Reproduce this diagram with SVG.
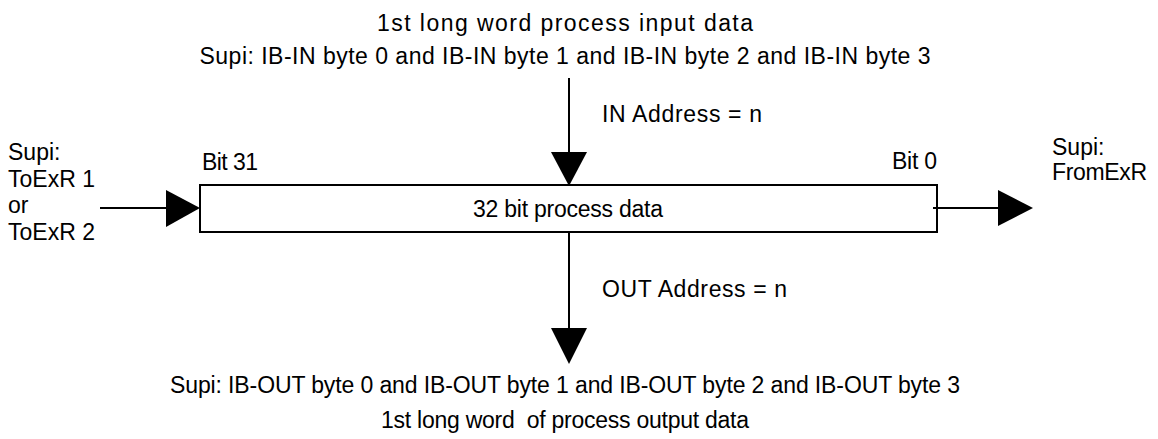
<svg xmlns="http://www.w3.org/2000/svg" width="1158" height="439" viewBox="0 0 1158 439">
<style>
text{font-family:"Liberation Sans",Arial,sans-serif;font-size:23px;fill:#000;white-space:pre}
.c{text-anchor:middle}
.s{font-size:22px}
.ln{stroke:#000;stroke-width:2;fill:none}
.ah{fill:#000;stroke:none}
</style>
<rect width="1158" height="439" fill="#fff"/>
<g id="top-label">
<text class="c" x="565" y="31" textLength="376" lengthAdjust="spacing">1st long word process input data</text>
<text class="c" x="565" y="64" textLength="731" lengthAdjust="spacing">Supi: IB-IN byte 0 and IB-IN byte 1 and IB-IN byte 2 and IB-IN byte 3</text>
</g>
<g id="bottom-label">
<text class="c" x="565" y="393" textLength="790" lengthAdjust="spacing">Supi: IB-OUT byte 0 and IB-OUT byte 1 and IB-OUT byte 2 and IB-OUT byte 3</text>
<text class="c" x="565" y="428" textLength="368" lengthAdjust="spacing">1st long word  of process output data</text>
</g>
<g id="left-label">
<text x="8" y="160">Supi:</text>
<text x="8" y="187">ToExR 1</text>
<text x="8" y="213">or</text>
<text x="8" y="240">ToExR 2</text>
</g>
<g id="right-label">
<text x="1052" y="155">Supi:</text>
<text x="1052" y="180" textLength="95" lengthAdjust="spacing">FromExR</text>
</g>
<g id="process-data">
<rect class="ln" x="200" y="185" width="737" height="47"/>
<text class="c" x="568" y="217" textLength="190" lengthAdjust="spacing">32 bit process data</text>
<text x="202" y="170" textLength="56" lengthAdjust="spacing">Bit 31</text>
<text x="892" y="169" textLength="45" lengthAdjust="spacing">Bit 0</text>
</g>
<g id="connectors">
<line class="ln" x1="569" y1="78" x2="569" y2="153"/>
<polygon class="ah" points="551,152 587,152 569,186"/>
<text x="602" y="122" textLength="160" lengthAdjust="spacing">IN Address = n</text>
<line class="ln" x1="569" y1="232" x2="569" y2="329"/>
<polygon class="ah" points="551,328 587,328 569,364"/>
<text x="602" y="297" textLength="185" lengthAdjust="spacing">OUT Address = n</text>
<line class="ln" x1="100" y1="208" x2="167" y2="208"/>
<polygon class="ah" points="166,190 166,227 200,208"/>
<line class="ln" x1="933" y1="208" x2="999" y2="208"/>
<polygon class="ah" points="998,190 998,226 1033,208"/>
</g>
</svg>
